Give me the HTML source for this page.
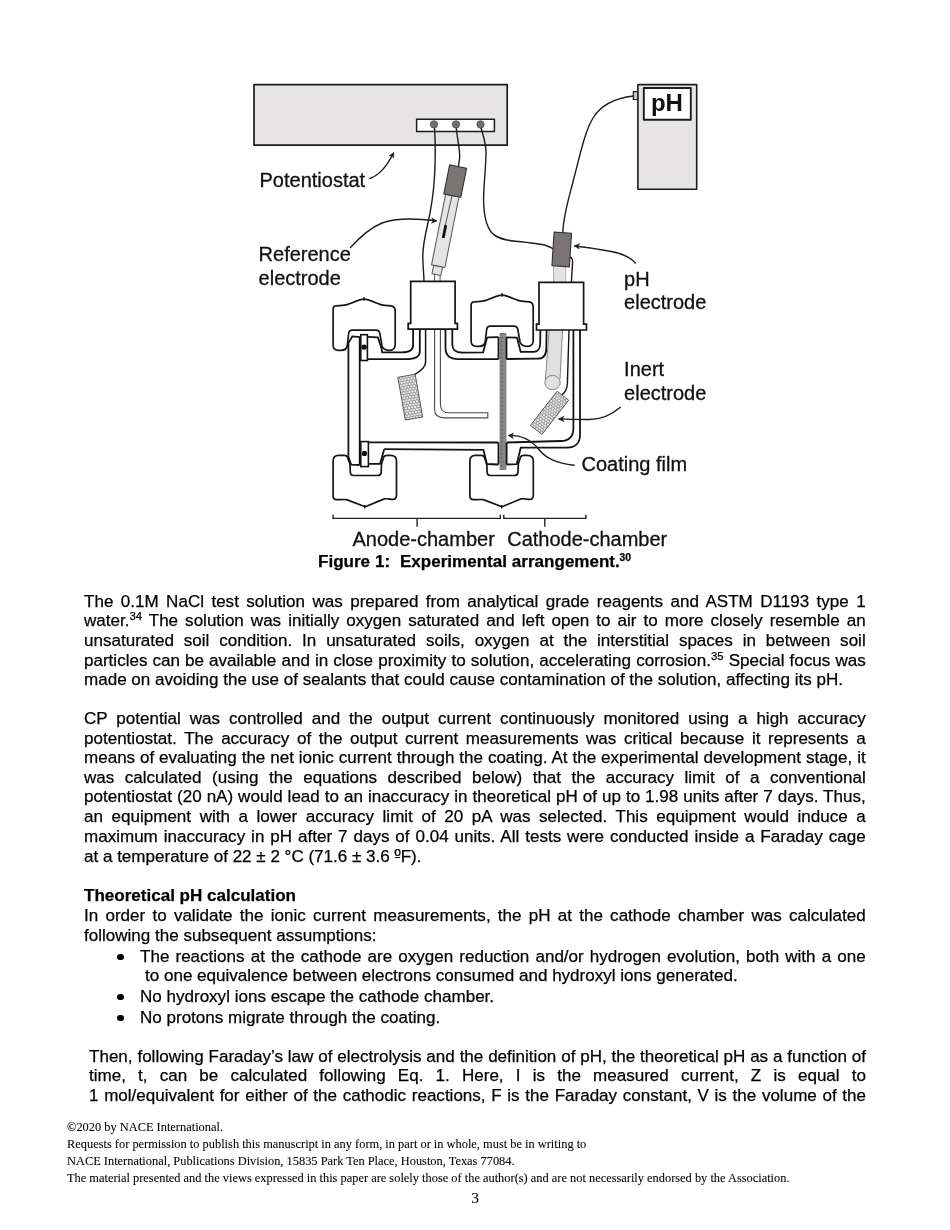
<!DOCTYPE html>
<html><head><meta charset="utf-8"><style>
html,body{margin:0;padding:0;background:#fff;width:950px;height:1230px;overflow:hidden}
.l{position:absolute;font-family:"Liberation Sans",sans-serif;font-size:17.05px;line-height:20px;white-space:nowrap;color:#000}
.j{text-align:justify;text-align-last:justify;white-space:normal}
.b{font-weight:bold}
.s{font-size:11.3px;vertical-align:0;position:relative;top:-6.2px;line-height:0}
.o{position:relative}
.o i{position:absolute;left:0.6px;right:0.4px;top:10.2px;height:1.1px;background:#111}
.dot{position:absolute;left:117.4px;width:6.2px;height:6.2px;border-radius:50%;background:#000}
.f{position:absolute;font-family:"Liberation Serif",serif;font-size:12.4px;line-height:14px;white-space:nowrap;color:#000}
svg{position:absolute;left:0;top:0}
.l,.f,svg{will-change:transform}
.l{-webkit-text-stroke:0.25px #000}
.f{-webkit-text-stroke:0.08px #000}
</style></head><body>
<svg width="950" height="600" viewBox="0 0 950 600" font-family="Liberation Sans, sans-serif">
<defs>
<pattern id="mesh" width="3" height="5.2" patternUnits="userSpaceOnUse">
<rect width="3" height="5.2" fill="#909090"/>
<circle cx="0" cy="0" r="1.15" fill="#f4f4f4"/><circle cx="3" cy="0" r="1.15" fill="#f4f4f4"/>
<circle cx="0" cy="5.2" r="1.15" fill="#f4f4f4"/><circle cx="3" cy="5.2" r="1.15" fill="#f4f4f4"/>
<circle cx="1.5" cy="2.6" r="1.15" fill="#f4f4f4"/>
</pattern>
<pattern id="film" width="6.3" height="4" patternUnits="userSpaceOnUse">
<rect width="6.3" height="4" fill="#878787"/>
<rect x="2.6" y="0.8" width="2.6" height="1.8" fill="#6c6c6c"/>
</pattern>
<path id="clampB" d="M338.5,455.3 C335,455.3 333.1,457.5 333.1,461 L333.1,496 C333.1,498.5 334.5,499.6 336.5,499.6 C340,499.8 343,499.2 346.5,499.6 L365.2,506.8 L384.5,498.8 C388,498.4 391.5,499.8 393.5,499.4 C395.6,499 396.5,497.5 396.5,495 L396.5,461 C396.5,457.5 394.2,455.3 390.5,455.3 L387.6,455.3 C385.6,455.3 384.3,455.8 383.7,457.2 L381.5,464 L381.2,472.3 C381,474.5 379.8,475.5 377.6,475.5 L353.4,475.5 C351.3,475.5 350.4,474.5 350.3,472.3 L350,464.2 L347.5,457.2 C347,455.8 345.8,455.3 343.8,455.3 Z"/>
<path id="clamp" d="M336,305.8 C340,305.4 344,305.9 348,304.4 C353,302.5 359,299.5 364,299.2 C369,299.5 375,302.5 380,304.4 C384,305.9 388,305.4 391.5,305.8 C394,306.3 395.2,308 395.2,311 L395.2,344.5 C395.2,348.3 393.2,350.3 389.5,350.3 C385.5,350.3 383,349.5 382,346 L379.8,333.2 C379.4,331 378.2,330.1 376,330.1 L352.2,330.1 C350,330.1 349,331 348.7,333.2 L347.3,345.5 C346.8,348.8 345,350.3 341.2,350.3 L338.5,350.3 C335,350.3 333.1,348.5 333.1,345 L333.1,309.5 C333.1,307.2 334,305.8 336,305.8 Z"/>
</defs>
<g fill="none" stroke="#1c1c1c" stroke-width="1.7" stroke-linejoin="round" stroke-linecap="round">
<!-- potentiostat -->
<rect x="254" y="84.6" width="253.2" height="60.6" fill="#e6e4e5"/>
<rect x="416.6" y="119.2" width="77.8" height="12.2" fill="#fff" stroke-width="1.5"/>
<!-- pH meter -->
<rect x="637.9" y="84.6" width="58.8" height="104.6" fill="#e6e4e5" stroke-width="1.6"/>
<rect x="643.8" y="88" width="47" height="31.8" fill="#fff" stroke-width="1.9"/>
<rect x="633.3" y="91.6" width="4.5" height="7.9" fill="#c8c8c8" stroke-width="1.2"/>
</g>
<text x="650.9" y="110.7" font-size="24" font-weight="bold" fill="#111">pH</text>
<!-- wires -->
<g fill="none" stroke="#1c1c1c" stroke-width="1.4" stroke-linecap="round">
<path d="M434.5,127.5 C435.3,140 435.4,160 434.6,175 C433.8,190 431,210 427.5,225 C424.5,238 422.6,250 422.8,258 C423,268 424,275 424,282"/>
<path d="M456.2,127.5 C457.2,138 460.2,150 459.6,158 C459.2,162 458.6,164 458.4,166.5"/>
<path d="M480.9,127.5 C483,135 486,143 486,152 C486,168 483.5,185 483.6,200 C483.7,215 486,226 492,233 C497,238.5 505,240 515,241.2 C528,242.4 540,243.5 546,245.5 C549,246.5 551,247.5 552.5,248.5"/>
<path d="M633.5,96 C616,98 601,105 593,118 C585,131 580,155 574,178 C569.5,196 563.5,214 562.8,232.5"/>
<path d="M569.8,257 C571.8,257.3 572.6,259 572.6,262.5 L571.4,282"/>
</g>
<g fill="#707070" stroke="#4a4a4a" stroke-width="0.7">
<circle cx="434" cy="124.4" r="3.7"/>
<circle cx="456" cy="124.4" r="3.7"/>
<circle cx="480.5" cy="124.4" r="3.7"/>
</g>
<path d="M434.6,274 L434.6,281.5 M440.1,274 L440.1,281.5" stroke="#555" stroke-width="1"/>
<!-- reference electrode -->
<g transform="translate(458.1,166.6) rotate(11.3)" stroke-linejoin="round">
<rect x="-6.8" y="29.6" width="13.6" height="72" fill="#e4e4e4" stroke="#555" stroke-width="1"/>
<line x1="-0.3" y1="29.6" x2="-1.0" y2="60" stroke="#555" stroke-width="1"/>
<rect x="-2" y="59.8" width="2.8" height="13.2" fill="#111"/>
<rect x="-4.6" y="101.6" width="9" height="8.6" fill="#e4e4e4" stroke="#555" stroke-width="1"/>
<rect x="-8.65" y="0" width="17.3" height="29.6" fill="#7b7474" stroke="#333" stroke-width="1.1"/>
</g>
<!-- pH electrode (top) -->
<g stroke-linejoin="round">
<path d="M553.6,266 L553.6,282.5 M565.6,266 L565.6,282.5" stroke="#777" stroke-width="1"/>
<rect x="553.6" y="266" width="12" height="16.5" fill="#e2e2e2"/>
<g transform="translate(562.85,232.65) rotate(3.75)">
<rect x="-8.75" y="0" width="17.5" height="33.7" fill="#7b7474" stroke="#333" stroke-width="1.1"/>
</g>
</g>
<!-- arrows -->
<g fill="none" stroke="#1c1c1c" stroke-width="1.4" stroke-linecap="round" stroke-linejoin="round">
<path d="M370,178.5 C377,176 385,170 393.2,153.5"/>
<path d="M350.5,247.5 C360,237 370,228 382,223 C395,218 412,217.8 436,220.8"/>
<path d="M635.2,263 C630,256.5 622,253.5 610,251.2 C598,249 586,247.2 574.8,246"/>
</g>

<!-- ===== cell ===== -->
<rect x="499.6" y="333" width="6.8" height="137" fill="url(#film)"/>
<g fill="#fff" stroke="#161616" stroke-width="1.7" stroke-linejoin="round">
<use href="#clamp"/>
<use href="#clamp" transform="translate(138,-4)"/>
<use href="#clampB"/>
<use href="#clampB" transform="translate(136.8,0)"/>
</g>
<g fill="none" stroke="#161616" stroke-width="1.3">
<path d="M364,297 L364,300.5 M502,293 L502,296.5 M364.8,505 L364.8,508.4 M501.6,505 L501.6,508.4"/>
</g>
<g fill="none" stroke="#141414" stroke-width="1.8" stroke-linejoin="round">
<!-- left end wall -->
<path d="M348.4,343.6 L348.4,457.2"/>
<path d="M359.7,337.2 L359.7,465"/>
<path d="M347.9,343.9 L352.4,336.3 L360.5,337.1"/>
<path d="M367.4,336.8 L377.9,337.4 L381.6,348.7 L382.1,352.4 L401.7,352.4 C408,352.4 413.1,350.5 413.1,345.3 L413.1,329"/>
<path d="M367.4,359.2 L406,359.2 C414,359.2 419.8,357 419.8,351.5 L419.8,329"/>
<path d="M445.5,329 L445.5,347.8 C445.5,355 450,359.2 458.2,359.2 L498.5,359.2"/>
<path d="M452.3,329 L452.3,344.4 C452.3,350 456,352.6 462.4,352.6 L483.1,352.4 L486.8,338.5 L488,337.4 L498.5,337.1"/>
<path d="M498.5,337.1 L498.5,359.2 M506.5,337.1 L506.5,359.2 M498.5,442.5 L498.5,464.5 M506.6,442.5 L506.6,464.5"/>
<path d="M506.5,337.4 L517,337.6 L520.7,351.9 L533.7,351.9 C538,351.9 540.2,348 540.2,343 L540.4,330"/>
<path d="M506.5,359 L537.9,358.7 C543,358.7 546.3,355 546.3,348.2 L546.6,330"/>
<path d="M573.4,330 L573.4,428 C573.4,436.5 569,440.9 561,441 L506.6,442.5"/>
<path d="M580,330 L580,435.3 C580,443 575,447.6 567,447.7 L520.7,447.7 L516.7,464.2 L506.6,464.5"/>
<path d="M368.4,442.4 L498.5,442.5"/>
<path d="M384.2,449.2 L483.4,449.8 L486.9,464 L498.5,464.5"/>
<path d="M348.4,457.1 L351.3,464.7 L359.7,465"/>
<path d="M368.4,463.9 L380,463.9 L384.2,449.2"/>
</g>
<g fill="#fff" stroke="#141414" stroke-width="1.6">
<rect x="360.8" y="334.7" width="6.6" height="25.8"/>
<rect x="360.8" y="441.6" width="7.6" height="25"/>
</g>
<circle cx="364.1" cy="347.1" r="2.7" fill="#111"/>
<circle cx="364.4" cy="453.4" r="2.7" fill="#111"/>
<!-- L tube -->
<path d="M434.6,329 L434.6,409.8 C434.6,415 438,417.9 444.4,417.9 L487.8,417.9 L487.8,412.7 L447.9,412.7 C443,412.7 440.4,409 440.4,404 L440.4,329" fill="none" stroke="#4a4a4a" stroke-width="1.1"/>
<!-- counter wire + mesh -->
<path d="M425.6,329 L425.6,362 C425.6,367.5 421,371 414.5,374.6" fill="none" stroke="#141414" stroke-width="1.5"/>
<rect x="-8.8" y="-21.7" width="17.6" height="43.4" transform="translate(410.25,397.15) rotate(-10)" fill="url(#mesh)" stroke="#555" stroke-width="0.9"/>
<!-- pH glass in cathode -->
<path d="M549.2,329 L562.6,329 L560,379 L545.4,380 Z" fill="#e0e0e0"/>
<path d="M549.2,329 L545.4,380 M562.6,329 L560,379" fill="none" stroke="#858585" stroke-width="1"/>
<ellipse cx="552.5" cy="382.6" rx="7.7" ry="7.2" fill="#e0e0e0" stroke="#858585" stroke-width="1"/>
<path d="M569,330 L567.4,383.5 C567.1,389.5 565,392.6 561.8,394.8" fill="none" stroke="#141414" stroke-width="1.4"/>
<rect x="-7.3" y="-21.65" width="14.6" height="43.3" transform="translate(549.55,412.8) rotate(38)" fill="url(#mesh)" stroke="#555" stroke-width="0.9"/>
<!-- caps -->
<g fill="#fff" stroke="#141414" stroke-width="1.7" stroke-linejoin="miter">
<path d="M410.7,281.3 L455.1,281.3 L455.1,323.3 L457.4,323.3 L457.4,329.1 L408.2,329.1 L408.2,323.3 L410.7,323.3 Z"/>
<path d="M539,282.4 L583.6,282.4 L583.6,324.1 L586.5,324.1 L586.5,330 L536.5,330 L536.5,324.1 L539,324.1 Z"/>
</g>
<!-- cell arrows -->
<g fill="none" stroke="#1c1c1c" stroke-width="1.4" stroke-linecap="round" stroke-linejoin="round">
<path d="M620.3,407.3 C612,414.5 603,419.3 590,419.5 C578,419.6 568,419.2 559,419"/>
<path d="M574.2,465.3 C556,463.5 546,458.5 538,448.5 C530,438.5 520,435.3 509,435.4"/>
</g>
<!-- bracket -->
<path d="M333,514.7 L333,518.4 L500.3,518.4 L500.3,514.7 M417.1,518.4 L417.1,526.8 M503.8,514.7 L503.8,518.4 L585.9,518.4 L585.9,514.7 M544.8,518.4 L544.8,526.8" fill="none" stroke="#222" stroke-width="1.4"/>
<path fill="#1c1c1c" stroke="#1c1c1c" stroke-width="0.5" stroke-linejoin="round" d="M393.8,152.5 L393.7,158.3 L392.0,155.8 L389.1,155.9 Z M436.8,221.0 L431.4,223.3 L433.0,220.7 L431.8,217.9 Z M574.2,245.9 L579.6,243.5 L578.0,246.1 L579.2,248.9 Z M558.6,419.0 L563.8,416.3 L562.4,419.0 L563.8,421.7 Z M508.2,435.6 L513.5,433.1 L512.0,435.8 L513.3,438.5 Z"/>
<!-- labels -->
<g fill="#111" font-size="20" stroke="#111" stroke-width="0.3">
<text x="259.5" y="186.9">Potentiostat</text>
<text x="258.6" y="261">Reference</text>
<text x="258.6" y="285.3">electrode</text>
<text x="624.1" y="285.6">pH</text>
<text x="624.1" y="309.2">electrode</text>
<text x="624.1" y="375.5">Inert</text>
<text x="624.1" y="399.5">electrode</text>
<text x="581.5" y="471.4">Coating film</text>
<text x="352.5" y="545.9">Anode-chamber</text>
<text x="507.2" y="545.9">Cathode-chamber</text>
</g>
</svg>

<div class="l b" style="left:317.8px;top:552px;word-spacing:0.2px">Figure 1:&nbsp; Experimental arrangement.<sup class="s" style="margin-left:-0.4px;font-size:10.4px">30</sup></div>
<div class="l j" style="left:84.3px;top:591.90px;width:781.7px;">The 0.1M NaCl test solution was prepared from analytical grade reagents and ASTM D1193 type 1</div>
<div class="l j" style="left:84.3px;top:611.45px;width:781.7px;">water.<sup class='s'>34</sup> The solution was initially oxygen saturated and left open to air to more closely resemble an</div>
<div class="l j" style="left:84.3px;top:631.00px;width:781.7px;">unsaturated soil condition. In unsaturated soils, oxygen at the interstitial spaces in between soil</div>
<div class="l j" style="left:84.3px;top:650.55px;width:781.7px;">particles can be available and in close proximity to solution, accelerating corrosion.<sup class='s'>35</sup> Special focus was</div>
<div class="l" style="left:84.3px;top:670.10px;">made on avoiding the use of sealants that could cause contamination of the solution, affecting its pH.</div>
<div class="l j" style="left:84.3px;top:709.20px;width:781.7px;">CP potential was controlled and the output current continuously monitored using a high accuracy</div>
<div class="l j" style="left:84.3px;top:728.75px;width:781.7px;">potentiostat. The accuracy of the output current measurements was critical because it represents a</div>
<div class="l j" style="left:84.3px;top:748.30px;width:781.7px;">means of evaluating the net ionic current through the coating. At the experimental development stage, it</div>
<div class="l j" style="left:84.3px;top:767.85px;width:781.7px;">was calculated (using the equations described below) that the accuracy limit of a conventional</div>
<div class="l j" style="left:84.3px;top:787.40px;width:781.7px;">potentiostat (20 nA) would lead to an inaccuracy in theoretical pH of up to 1.98 units after 7 days. Thus,</div>
<div class="l j" style="left:84.3px;top:806.95px;width:781.7px;">an equipment with a lower accuracy limit of 20 pA was selected. This equipment would induce a</div>
<div class="l j" style="left:84.3px;top:826.50px;width:781.7px;">maximum inaccuracy in pH after 7 days of 0.04 units. All tests were conducted inside a Faraday cage</div>
<div class="l" style="left:84.3px;top:847.05px;">at a temperature of 22 ± 2 °C (71.6 ± 3.6 <span class=o>º<i></i></span>F).</div>
<div class="l b" style="left:84.3px;top:886.10px;">Theoretical pH calculation</div>
<div class="l j" style="left:84.3px;top:905.80px;width:781.7px;">In order to validate the ionic current measurements, the pH at the cathode chamber was calculated</div>
<div class="l" style="left:84.3px;top:925.50px;">following the subsequent assumptions:</div>
<div class="l j" style="left:140.3px;top:946.80px;width:725.7px;">The reactions at the cathode are oxygen reduction and/or hydrogen evolution, both with a one</div>
<div class="l" style="left:145.2px;top:966.00px;">to one equivalence between electrons consumed and hydroxyl ions generated.</div>
<div class="l" style="left:140.3px;top:986.80px;">No hydroxyl ions escape the cathode chamber.</div>
<div class="l" style="left:140.3px;top:1007.90px;">No protons migrate through the coating.</div>
<div class="dot" style="top:954.0px"></div>
<div class="dot" style="top:994.0px"></div>
<div class="dot" style="top:1015.1px"></div>
<div class="l j" style="left:89.0px;top:1046.70px;width:777.0px;">Then, following Faraday’s law of electrolysis and the definition of pH, the theoretical pH as a function of</div>
<div class="l j" style="left:89.0px;top:1065.80px;width:777.0px;">time, t, can be calculated following Eq. 1. Here, I is the measured current, Z is equal to</div>
<div class="l j" style="left:89.0px;top:1086.00px;width:777.0px;">1 mol/equivalent for either of the cathodic reactions, F is the Faraday constant, V is the volume of the</div>
<div class="f" style="left:67px;top:1120.20px">©2020 by NACE International.</div>
<div class="f" style="left:67px;top:1137.30px">Requests for permission to publish this manuscript in any form, in part or in whole, must be in writing to</div>
<div class="f" style="left:67px;top:1154.20px">NACE International, Publications Division, 15835 Park Ten Place, Houston, Texas 77084.</div>
<div class="f" style="left:67px;top:1171.00px">The material presented and the views expressed in this paper are solely those of the author(s) and are not necessarily endorsed by the Association.</div>
<div class="f" style="left:0;width:950px;text-align:center;top:1191.10px;margin-left:-0.5px;font-size:15.5px">3</div>
</body></html>
